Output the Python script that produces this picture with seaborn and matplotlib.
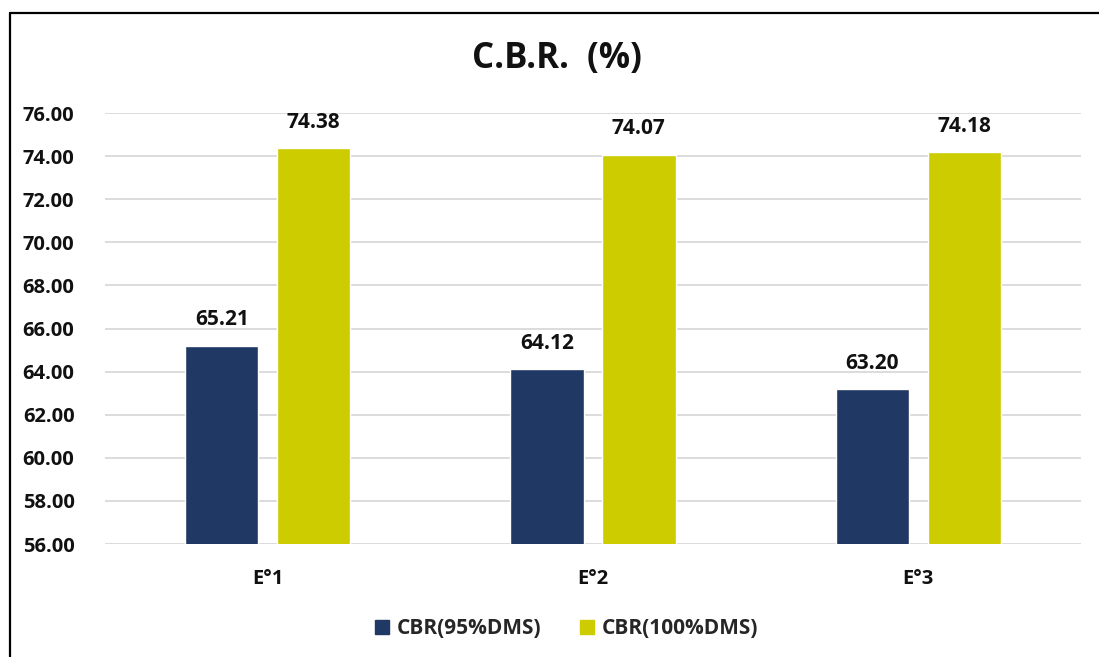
import matplotlib
matplotlib.use("Agg")
import matplotlib.pyplot as plt
import seaborn as sns
import pandas as pd
from matplotlib.lines import Line2D

categories = ["E°1", "E°2", "E°3"]
series_names = ["CBR(95%DMS)", "CBR(100%DMS)"]
cbr_95 = [65.21, 64.12, 63.20]
cbr_100 = [74.38, 74.07, 74.18]
y_ticks = [56, 58, 60, 62, 64, 66, 68, 70, 72, 74, 76]

df = pd.DataFrame({
    "Ensayo": categories * 2,
    "Serie": [series_names[0]] * 3 + [series_names[1]] * 3,
    "CBR": cbr_95 + cbr_100,
})

sns.set_theme(style="white")
plt.rcParams["font.family"] = ["Open Sans", "DejaVu Sans"]
plt.rcParams["font.weight"] = "bold"

colors = ["#203864", "#CCCC00"]

fig = plt.figure(figsize=(10.99, 6.57), dpi=100)
ax = fig.add_axes([105 / 1099, 1 - 544 / 657, (1081 - 105) / 1099, (544 - 113) / 657])

sns.barplot(data=df, x="Ensayo", y="CBR", hue="Serie", palette=colors,
            width=0.564, gap=0.2, ax=ax, legend=False, saturation=1)

ax.set_ylim(56, 76)
ax.set_xlim(-0.5, 2.5)
ax.set_yticks(y_ticks)
ax.set_yticklabels([f"{v:.2f}" for v in y_ticks], fontsize=14.5, fontweight="bold",
                   color="#111111")
ax.set_xticks(range(len(categories)))
ax.set_xticklabels(categories, fontsize=14.5, fontweight="bold", color="#111111")
ax.tick_params(axis="y", length=0, pad=22)
ax.tick_params(axis="x", length=0, pad=18)
ax.set_xlabel("")
ax.set_ylabel("")
ax.yaxis.grid(True, color="#D9D9D9", linewidth=1.3)
ax.set_axisbelow(True)
for s in ax.spines.values():
    s.set_visible(False)

for cont in ax.containers:
    ax.bar_label(cont, fmt="%.2f", padding=11, fontsize=15, fontweight="bold", color="#111111")

fig.text(557 / 1099, 1 - 59 / 657, "C.B.R.  (%)", ha="center", va="center",
         fontsize=25, fontweight="bold", color="#111111")

handles = [Line2D([0], [0], marker="s", linestyle="", markersize=10,
                  markerfacecolor=c, markeredgecolor=c) for c in colors]
fig.legend(handles, series_names, loc="center", bbox_to_anchor=(564 / 1099, 1 - 629 / 657),
           ncol=2, frameon=False, handletextpad=0.1, columnspacing=1.6, handlelength=1.2,
           prop={"weight": "bold", "size": 15})

# chart frame edges
fig.add_artist(Line2D([10 / 1099, 10 / 1099], [0, 1 - 13 / 657], transform=fig.transFigure,
                      color="black", linewidth=1.6))
fig.add_artist(Line2D([10 / 1099, 1], [1 - 13 / 657, 1 - 13 / 657], transform=fig.transFigure,
                      color="black", linewidth=1.6))

fig.savefig("out.png", dpi=100)
